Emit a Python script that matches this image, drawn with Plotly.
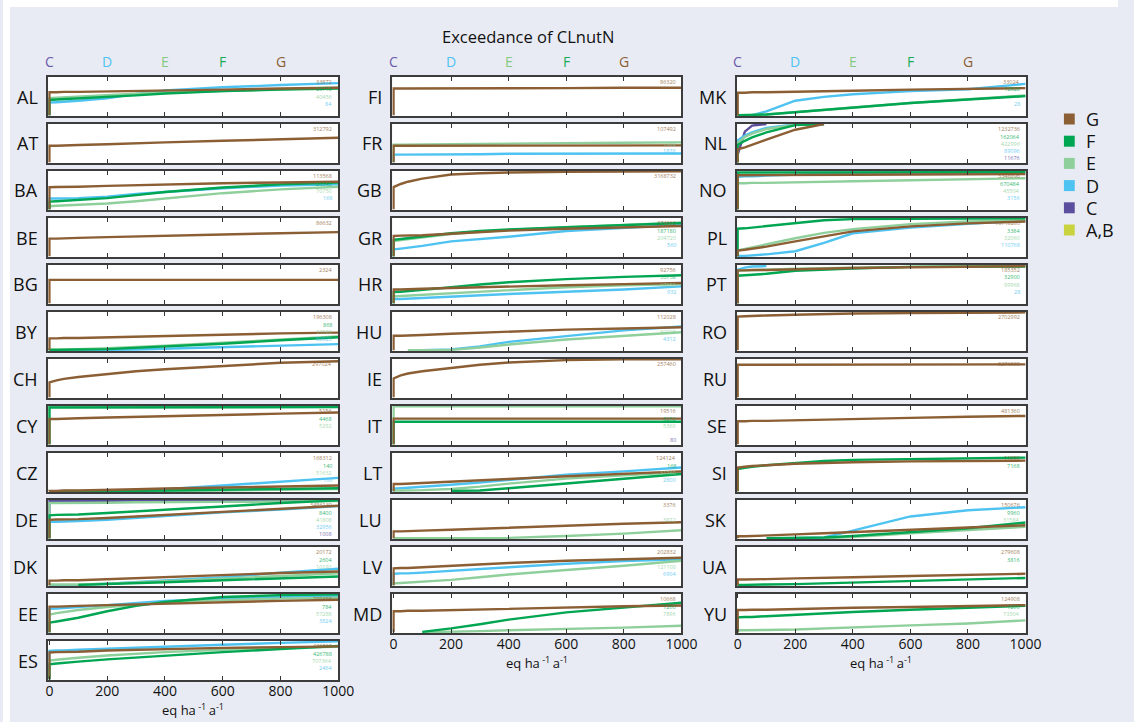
import plotly.graph_objects as go

W, H = 1134, 722
FONT = "Open Sans, Lato, sans-serif"

# x positions (eq ha-1 a-1) at which values were read; the first two are the vertical jump at 0
X_GRID = [0, 0, 25, 50, 100, 200, 300, 400, 600, 800, 1000]

LEGEND_ITEMS = ["G", "F", "E", "D", "C", "A,B"]
TOP_LETTERS = ["C", "D", "E", "F", "G"]
TOP_LETTER_X = [0, 200, 400, 600, 800]
TICK_VALUES = [0, 200, 400, 600, 800, 1000]
DRAW_ORDER = ["C", "D", "E", "F", "G"]

COLORS = {"A,B": "#C8D33F", "C": "#5C4E9F", "D": "#4EC3F1",
          "E": "#8FCF9B", "F": "#00A651", "G": "#8B5E34"}
LETTER_COLORS = {"C": "#6A5BAA", "D": "#4FC3F7", "E": "#86C97E",
                 "F": "#19AD5A", "G": "#8B5E34"}

# ---- cumulative fractions per country (values read at X_GRID) ----
AL = {"G": [0, .60, .60, .61, .61, .62, .64, .65, .67, .70, .72],
      "F": [0, .40, .41, .42, .43, .47, .52, .57, .63, .67, .70],
      "E": [0, .45, .46, .47, .48, .52, .56, .59, .64, .68, .72],
      "D": [0, .33, .34, .35, .38, .44, .56, .65, .73, .79, .84]}
AT = {"G": [0, .43, .43, .44, .45, .47, .50, .52, .56, .60, .64]}
BA = {"G": [0, .575, .58, .58, .59, .61, .63, .65, .68, .70, .72],
      "F": [0, .20, .21, .22, .24, .29, .37, .45, .57, .65, .70],
      "E": [0, .08, .09, .10, .12, .15, .21, .28, .42, .52, .59],
      "D": [0, .28, .28, .28, .29, .33, .40, .45, .55, .62, .65]}
BE = {"G": [0, .46, .46, .47, .48, .50, .52, .54, .57, .60, .63]}
BG = {"G": [0, .61, .61, .61, .61, .61, .61, .61, .61, .61, .61]}
BY = {"G": [0, .31, .31, .32, .32, .34, .36, .38, .41, .44, .46],
      "F": [0, .01, .01, .01, .02, .03, .06, .10, .17, .26, .34],
      "E": [0, .02, .02, .02, .03, .05, .08, .12, .20, .28, .36],
      "D": [0, 0, 0, 0, 0, .01, .02, .04, .08, .12, .16]}
CH = {"G": [0, .39, .44, .48, .53, .61, .68, .73, .82, .90, .94]}
CY = {"G": [0, .66, .66, .67, .68, .70, .72, .74, .77, .80, .83],
      "E": [0, .98, .98, .98, .99, .99, .99, .99, .99, .99, .99],
      "F": [0, .96, .96, .96, .97, .97, .97, .97, .97, .97, .97]}
CZ = {"G": [0, .01, .01, .02, .02, .03, .05, .07, .10, .13, .15],
      "F": [0, 0, 0, 0, 0, 0, .01, .02, .04, .06, .08],
      "E": [0, 0, 0, 0, 0, 0, 0, .01, .02, .04, .06],
      "D": [0, 0, 0, 0, 0, .01, .02, .05, .15, .25, .35]}
DE = {"G": [0, .48, .49, .49, .50, .53, .57, .61, .70, .78, .85],
      "F": [0, .60, .61, .61, .62, .66, .70, .74, .83, .92, .99],
      "E": [0, .92, .92, .92, .93, .93, .94, .94, .95, .96, .97],
      "D": [0, .43, .43, .44, .45, .48, .53, .58, .68, .75, .84],
      "C": [0, .97, .97, .97, .97, .97, .98, .98, 1.0, 1.0, 1.0]}
DK = {"G": [0, .12, .12, .13, .13, .16, .19, .22, .27, .32, .36],
      "F": [None, None, None, None, .01, .03, .05, .08, .13, .18, .23],
      "E": [0, .02, .02, .02, .02, .04, .07, .10, .17, .24, .31],
      "D": [0, 0, 0, 0, .01, .04, .08, .12, .21, .33, .43]}
EE = {"G": [0, .67, .67, .68, .69, .71, .73, .75, .79, .82, .85],
      "F": [0, .25, .28, .31, .38, .55, .69, .79, .92, .97, .99],
      "E": [0, .46, .50, .53, .58, .66, .72, .77, .84, .88, .90],
      "D": [0, .61, .62, .63, .66, .71, .77, .82, .88, .93, .95]}
ES = {"G": [0, .70, .71, .71, .72, .75, .77, .79, .82, .84, .86],
      "F": [0, .39, .41, .43, .46, .52, .57, .62, .71, .79, .87],
      "E": [0, .49, .51, .53, .56, .62, .67, .71, .77, .82, .85],
      "D": [0, .74, .75, .75, .77, .80, .83, .86, .90, .95, .99]}

FI = {"G": [0, .70, .70, .70, .70, .70, .71, .71, .71, .72, .72]}
FR = {"G": [0, .43, .43, .43, .43, .43, .43, .44, .44, .44, .44],
      "E": [0, .46, .46, .46, .47, .47, .48, .49, .50, .51, .52],
      "D": [0, .20, .20, .20, .21, .21, .21, .22, .22, .23, .23]}
GB = {"G": [0, .58, .66, .72, .80, .91, .94, .96, .98, .99, .99]}
GR = {"G": [0, .53, .54, .54, .55, .59, .63, .67, .72, .76, .79],
      "F": [0, .43, .45, .47, .51, .60, .66, .70, .76, .81, .87],
      "E": [0, .40, .42, .44, .48, .58, .64, .69, .76, .82, .88],
      "D": [0, .18, .20, .22, .27, .39, .45, .51, .66, .74, .82]}
HR = {"G": [0, .36, .36, .37, .38, .40, .42, .44, .47, .50, .53],
      "F": [0, .29, .30, .32, .35, .42, .49, .55, .63, .69, .73],
      "E": [0, .18, .19, .20, .21, .25, .30, .34, .42, .47, .50],
      "D": [0, .11, .11, .12, .13, .16, .20, .24, .30, .36, .44]}
HU = {"G": [0, .38, .38, .39, .40, .43, .46, .49, .54, .57, .60],
      "E": [None, None, None, 0, 0, .01, .07, .15, .28, .38, .47],
      "D": [None, None, None, 0, 0, .02, .10, .22, .38, .52, .62]}
IE = {"G": [0, .49, .57, .62, .68, .77, .85, .91, .97, .99, .99]}
IT = {"G": [0, .67, .67, .67, .67, .67, .67, .67, .67, .67, .67],
      "E": [0, .99, .99, .99, .99, .99, .99, .99, .99, .99, .99],
      "F": [0, .59, .59, .59, .59, .59, .59, .59, .59, .59, .59]}
LT = {"G": [0, .19, .19, .20, .21, .24, .28, .32, .39, .46, .52],
      "F": [None, None, None, None, None, .01, .02, .08, .20, .33, .45],
      "E": [0, .02, .02, .02, .03, .06, .12, .20, .33, .42, .50],
      "D": [0, .07, .08, .09, .11, .17, .23, .30, .43, .52, .62]}
LU = {"G": [0, .18, .18, .19, .20, .22, .25, .28, .33, .38, .42],
      "E": [0, 0, 0, 0, 0, 0, 0, .01, .06, .12, .21]}
LV = {"G": [0, .44, .45, .45, .47, .51, .55, .58, .64, .68, .72],
      "D": [0, .30, .31, .31, .33, .38, .43, .47, .56, .63, .68],
      "E": [0, .05, .06, .07, .09, .14, .21, .28, .40, .51, .64]}
MD = {"G": [0, .55, .55, .56, .56, .58, .60, .62, .65, .68, .70],
      "F": [None, None, None, None, .01, .10, .21, .33, .52, .65, .77],
      "E": [None, None, None, None, 0, .01, .03, .05, .08, .12, .17]}

MK = {"G": [0, .59, .59, .60, .60, .62, .63, .64, .67, .69, .71],
      "F": [0, 0, .01, .01, .02, .08, .14, .20, .32, .41, .50],
      "E": [0, 0, .01, .01, .02, .08, .14, .20, .32, .42, .52],
      "D": [0, 0, 0, 0, .10, .38, .48, .55, .63, .68, .82]}
NL = {"G": [0, .34, .39, .45, .59, .85, 1.0, None, None, None, None],
      "F": [0, .45, .56, .65, .78, .97, 1.0, None, None, None, None],
      "E": [0, .50, .66, .75, .87, .98, 1.0, None, None, None, None],
      "D": [0, .57, .70, .78, .90, .99, 1.0, None, None, None, None],
      "C": [0, .20, .80, .96, 1.0, None, None, None, None, None, None]}
NO = {"G": [0, .89, .89, .89, .89, .90, .90, .90, .91, .91, .92],
      "F": [0, .96, .96, .96, .96, .97, .97, .97, .97, .97, .97],
      "E": [0, .68, .68, .69, .69, .70, .71, .73, .76, .79, .81],
      "D": [0, .85, .86, .86, .88, .91, .93, .95, .96, .97, .97]}
PL = {"G": [0, .15, .17, .20, .25, .39, .53, .65, .78, .86, .91],
      "F": [0, .72, .73, .75, .79, .88, .94, .97, .98, .99, .99],
      "E": [0, .15, .19, .23, .31, .47, .61, .71, .84, .91, .95],
      "D": [0, .01, .01, .02, .05, .13, .35, .60, .75, .85, .93]}
PT = {"G": [0, .86, .86, .87, .87, .89, .90, .92, .94, .96, .97],
      "F": [0, .72, .73, .74, .77, .85, .88, .91, .95, .96, .96],
      "E": [0, .85, .86, .87, .88, .90, .92, .93, .95, .96, .97],
      "D": [0, .88, .93, .96, .97, None, None, None, None, None, None]}
RO = {"G": [0, .88, .89, .90, .91, .93, .95, .96, .97, .98, .99]}
RU = {"G": [0, .85, .85, .85, .85, .85, .85, .86, .86, .86, .86]}
SE = {"G": [0, .60, .60, .61, .61, .63, .65, .66, .69, .72, .74]}
SI = {"G": [0, .62, .64, .66, .68, .72, .74, .76, .78, .79, .80],
      "F": [0, .58, .61, .64, .68, .74, .79, .82, .84, .86, .88]}
SK = {"G": [0, .05, .05, .06, .07, .10, .13, .16, .22, .28, .34],
      "F": [None, None, None, None, 0, .01, .02, .06, .17, .26, .41],
      "E": [None, None, None, None, None, None, 0, .03, .13, .22, .30],
      "D": [None, None, None, None, None, 0, .02, .20, .57, .73, .81]}
UA = {"G": [0, .15, .15, .15, .16, .18, .19, .21, .24, .27, .30],
      "F": [0, .01, .01, .01, .02, .03, .05, .07, .11, .15, .19]}
YU = {"G": [0, .58, .58, .59, .59, .61, .62, .64, .66, .69, .71],
      "F": [0, .39, .40, .40, .42, .46, .49, .53, .59, .64, .69],
      "E": [0, .05, .05, .05, .06, .07, .10, .12, .18, .23, .31]}

COLUMN_1 = ["AL", "AT", "BA", "BE", "BG", "BY", "CH", "CY", "CZ", "DE", "DK", "EE", "ES"]
COLUMN_2 = ["FI", "FR", "GB", "GR", "HR", "HU", "IE", "IT", "LT", "LU", "LV", "MD"]
COLUMN_3 = ["MK", "NL", "NO", "PL", "PT", "RO", "RU", "SE", "SI", "SK", "UA", "YU"]

# small per-class counts printed at the right of each panel
COUNTS_1 = {"AL": {"G": "33872", "F": "28718", "E": "40456", "D": "84"},
            "AT": {"G": "312792"},
            "BA": {"G": "113568", "F": "26348", "E": "70750", "D": "168"},
            "BE": {"G": "86632"}, "BG": {"G": "2324"},
            "BY": {"G": "196308", "F": "868", "E": "33580", "D": "80920"},
            "CH": {"G": "297024"},
            "CY": {"G": "5156", "F": "4468", "E": "5292"},
            "CZ": {"G": "168312", "F": "140", "E": "51632", "D": "100"},
            "DE": {"G": "3486130", "F": "8400", "E": "41808", "D": "32956", "C": "1008"},
            "DK": {"G": "20172", "F": "2604", "E": "10192"},
            "EE": {"G": "799388", "F": "784", "E": "57288", "D": "3824"},
            "ES": {"G": "436560", "F": "426788", "E": "707364", "D": "2464"}}
COUNTS_2 = {"FI": {"G": "86320"},
            "FR": {"G": "107492", "E": "1368", "D": "1876"},
            "GB": {"G": "3168732"},
            "GR": {"G": "374862", "F": "187180", "E": "204720", "D": "560"},
            "HR": {"G": "92756", "F": "33758", "E": "69852", "D": "932"},
            "HU": {"G": "112028", "E": "80028", "D": "4312"},
            "IE": {"G": "257460"},
            "IT": {"G": "19516", "F": "8252", "E": "5360", "C": "80"},
            "LT": {"G": "124124", "F": "168", "E": "31760", "D": "2800"},
            "LU": {"G": "3376", "E": "3872"},
            "LV": {"G": "202832", "E": "121100", "D": "6904"},
            "MD": {"G": "10668", "F": "1260", "E": "7896"}}
COUNTS_3 = {"MK": {"G": "33024", "F": "12828", "D": "28"},
            "NL": {"G": "1232736", "F": "162064", "E": "422996", "D": "89096", "C": "11676"},
            "NO": {"G": "3348896", "F": "670484", "E": "45504", "D": "3156"},
            "PL": {"G": "10718280", "F": "3384", "E": "32060", "D": "110768"},
            "PT": {"G": "185352", "F": "32900", "E": "99968", "D": "28"},
            "RO": {"G": "2702992"}, "RU": {"G": "8276880"}, "SE": {"G": "481360"},
            "SI": {"G": "11850", "F": "7168"},
            "SK": {"G": "150676", "F": "9960", "E": "31584"},
            "UA": {"G": "279608", "F": "3816"},
            "YU": {"G": "124908", "F": "1260", "E": "73304"}}

DATA = {n: globals()[n] for n in COLUMN_1 + COLUMN_2 + COLUMN_3}

# ---- layout geometry (pixels) ----
COL_X = [(44, 343), (394, 692), (744, 1042)]
TOP0, PITCH, PH = 75, 47, 43
LW = 2
COUNT_OFFSET = {"G": 7, "F": 14.5, "E": 22, "D": 29, "C": 36}


def px(x):
    return x / W


def py(y):
    return 1 - y / H


fig = go.Figure()
layout = {}
annotations = []
shapes = []

idx = 0
for ci, (names, counts) in enumerate(zip([COLUMN_1, COLUMN_2, COLUMN_3],
                                         [COUNTS_1, COUNTS_2, COUNTS_3])):
    x0, x1 = COL_X[ci]
    first_ax = None
    for ri, name in enumerate(names):
        idx += 1
        ax = "" if idx == 1 else str(idx)
        if first_ax is None:
            first_ax = ax
        top = TOP0 + PITCH * ri
        bottom = top + PH
        is_last = ri == len(names) - 1
        layout["xaxis" + ax] = dict(
            domain=[px(x0 + LW), px(x1 - LW)], anchor="y" + ax, range=[-4, 1000],
            showline=True, linecolor="#3c3c3c", linewidth=LW, mirror="ticks",
            ticks="inside", ticklen=4, tickwidth=1.4, tickcolor="#333",
            tickvals=TICK_VALUES if is_last else TICK_VALUES[1:-1],
            showticklabels=is_last, ticklabelstandoff=-3,
            tickfont=dict(family=FONT, size=14, color="#111"),
            showgrid=False, zeroline=False, fixedrange=True)
        layout["yaxis" + ax] = dict(
            domain=[py(bottom - LW), py(top + LW)], anchor="x" + ax, range=[-0.02, 1.0],
            showline=True, linecolor="#3c3c3c", linewidth=LW, mirror=True,
            ticks="", showticklabels=False, showgrid=False, zeroline=False,
            fixedrange=True)
        series = DATA[name]
        for s in DRAW_ORDER:
            if s in series:
                fig.add_trace(go.Scatter(
                    x=X_GRID, y=series[s], xaxis="x" + ax, yaxis="y" + ax,
                    mode="lines", line=dict(color=COLORS[s], width=2.4),
                    showlegend=False, hoverinfo="skip", connectgaps=False))
        # country label
        annotations.append(dict(
            x=px(x0 - 6), y=py(top + PH / 2), xref="paper", yref="paper",
            text=name, showarrow=False, xanchor="right", yanchor="middle",
            font=dict(family=FONT, size=18, color="#111")))
        # counts
        for s, txt in counts.get(name, {}).items():
            annotations.append(dict(
                x=px(x1 - 6), y=py(top + COUNT_OFFSET[s]), xref="paper",
                yref="paper", text=txt, showarrow=False, xanchor="right",
                yanchor="middle", opacity=0.8,
                font=dict(family=FONT, size=5.5, color=COLORS[s])))
        if is_last:
            annotations.append(dict(
                x=px((x0 + x1) / 2), y=py(bottom + 27), xref="paper", yref="paper",
                text="eq ha<sup> -1 </sup>a<sup>-1</sup>", showarrow=False,
                xanchor="center", yanchor="middle",
                font=dict(family=FONT, size=13, color="#111")))
    # class letters above each column
    for letter, xv in zip(TOP_LETTERS, TOP_LETTER_X):
        annotations.append(dict(
            x=xv, y=py(62), xref="x" + first_ax, yref="paper", text=letter,
            showarrow=False, xanchor="center", yanchor="middle",
            font=dict(family=FONT, size=14, color=LETTER_COLORS[letter])))

# title
annotations.append(dict(
    x=px(534), y=py(37), xref="paper", yref="paper", text="Exceedance of CLnutN",
    showarrow=False, xanchor="center", yanchor="middle",
    font=dict(family=FONT, size=16.5, color="#111")))

# legend (manual)
for i, item in enumerate(LEGEND_ITEMS):
    yc = 119 + 22.2 * i
    shapes.append(dict(type="rect", xref="paper", yref="paper",
                       x0=px(1079), x1=px(1090), y0=py(yc + 5.5), y1=py(yc - 5.5),
                       fillcolor=COLORS[item], line=dict(width=0)))
    annotations.append(dict(
        x=px(1099), y=py(yc), xref="paper", yref="paper", text=item,
        showarrow=False, xanchor="left", yanchor="middle",
        font=dict(family=FONT, size=18, color="#111")))

# white strips at top/left of the page
shapes.append(dict(type="rect", xref="paper", yref="paper", x0=0, x1=1,
                   y0=py(7), y1=1, fillcolor="white", line=dict(width=0), layer="above"))
shapes.append(dict(type="rect", xref="paper", yref="paper", x0=0, x1=px(7),
                   y0=0, y1=1, fillcolor="white", line=dict(width=0), layer="above"))

fig.update_layout(
    width=W, height=H, margin=dict(l=0, r=0, t=0, b=0),
    paper_bgcolor="#E8EBF3", plot_bgcolor="white",
    showlegend=False, annotations=annotations, shapes=shapes, **layout)

fig.write_html("out.html")
